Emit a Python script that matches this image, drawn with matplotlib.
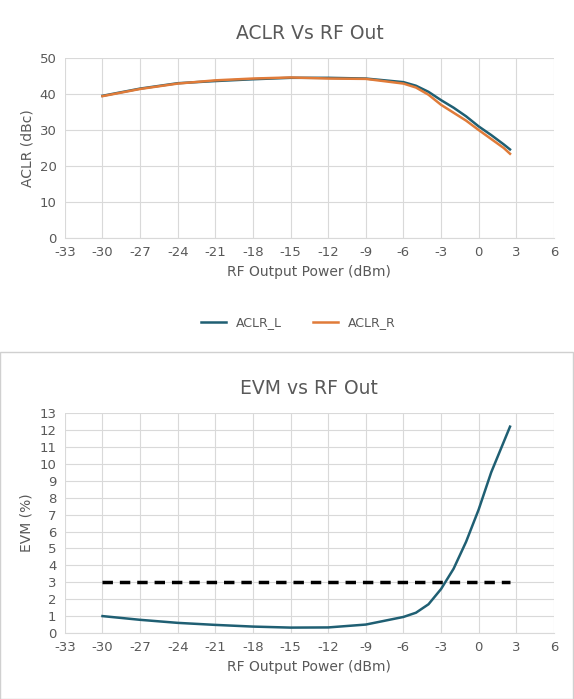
import matplotlib.pyplot as plt
from matplotlib.patches import Rectangle
from matplotlib.lines import Line2D

plt.rcParams["axes.unicode_minus"] = False

X = [-30, -27, -24, -21, -18, -15, -12, -9, -6, -5, -4, -3, -2, -1, 0, 1, 2, 2.5]
ACLR_L = [39.5, 41.5, 43, 43.6, 44.1, 44.5, 44.5, 44.3, 43.3, 42.3, 40.6, 38.3, 36.2, 33.8, 31.0, 28.6, 26.0, 24.6]
ACLR_R = [39.4, 41.4, 42.9, 43.8, 44.3, 44.6, 44.3, 44.2, 42.9, 41.8, 39.8, 37.0, 34.8, 32.6, 30.0, 27.5, 25.0, 23.4]
EVM = [1.0, 0.78, 0.6, 0.48, 0.38, 0.32, 0.33, 0.5, 0.95, 1.2, 1.7, 2.6, 3.8, 5.4, 7.3, 9.5, 11.3, 12.2]
EVM_LIMIT = 3
XTICKS = list(range(-33, 7, 3))

BLUE = "#1f5f73"
ORANGE = "#e07b39"
GRID = "#d9d9d9"
TXT = "#595959"

fig = plt.figure(figsize=(5.74, 6.99), dpi=100)
fig.patches.append(Rectangle((0.0, 0.0), 0.999, 0.497, transform=fig.transFigure,
                             fill=False, edgecolor="#d0d0d0", linewidth=1))


def style(ax, ymax, ystep):
    ax.set_xlim(-33, 6)
    ax.set_ylim(0, ymax)
    ax.set_xticks(XTICKS)
    ax.set_yticks(range(0, ymax + 1, ystep))
    ax.grid(True, color=GRID, linewidth=0.8)
    ax.set_axisbelow(True)
    for s in ax.spines.values():
        s.set_visible(False)
    ax.spines["bottom"].set_visible(True)
    ax.spines["bottom"].set_color(GRID)
    ax.tick_params(length=0, labelsize=9.5, colors=TXT, pad=6)
    ax.set_xlabel("RF Output Power (dBm)", fontsize=10, color=TXT)


ax1 = fig.add_axes([0.113, 0.6595, 0.852, 0.2575])
ax1.plot(X, ACLR_L, color=BLUE, linewidth=1.8, label="ACLR_L")
ax1.plot(X, ACLR_R, color=ORANGE, linewidth=1.8, label="ACLR_R")
style(ax1, 50, 10)
ax1.set_ylabel("ACLR (dBc)", fontsize=10, color=TXT)
ax1.set_title("ACLR Vs RF Out", fontsize=13.5, color=TXT, pad=14)
fig.legend(handles=[Line2D([], [], color=BLUE, lw=1.8), Line2D([], [], color=ORANGE, lw=1.8)],
           labels=["ACLR_L", "ACLR_R"], loc="center", bbox_to_anchor=(0.52, 0.538),
           ncol=2, frameon=False, fontsize=9, labelcolor=TXT, columnspacing=2.5)

ax2 = fig.add_axes([0.113, 0.0944, 0.852, 0.3146])
ax2.plot(X, EVM, color=BLUE, linewidth=1.8)
ax2.plot([X[0], X[-1]], [EVM_LIMIT, EVM_LIMIT], color="black", linewidth=2.5, linestyle=(0, (3, 2)))
style(ax2, 13, 1)
ax2.set_ylabel("EVM (%)", fontsize=10, color=TXT)
ax2.set_title("EVM vs RF Out", fontsize=13.5, color=TXT, pad=14)

fig.savefig("out.png", dpi=100)
